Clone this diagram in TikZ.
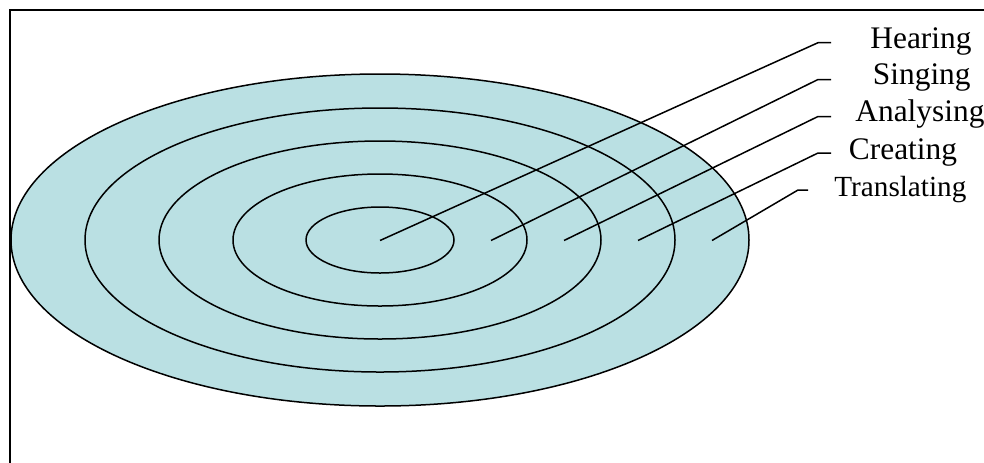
\documentclass[tikz,border=0pt]{standalone}
\usepackage{fontspec}
\setmainfont{Liberation Serif}
\definecolor{ringfill}{RGB}{186,224,227}
\begin{document}
\begin{tikzpicture}[x=0.5pt,y=-0.5pt,
  ring/.style={draw=black, line width=0.75pt},
  leader/.style={draw=black, line width=0.75pt},
  frameline/.style={draw=black, line width=1pt},
  lab/.style={anchor=base west, inner sep=0pt, font=\fontsize{15.7pt}{18pt}\selectfont},
  smalllab/.style={lab, font=\fontsize{14.6pt}{17pt}\selectfont}]
\useasboundingbox (0,0) rectangle (984,462);
\begin{scope}
  \clip (0,0) rectangle (984,462);
  \coordinate (frTR) at (1100,9.7);
  \coordinate (frTL) at (10,9.7);
  \coordinate (frBL) at (10,600);
  \draw[frameline] (frTR) -- (frTL) -- (frBL);
\end{scope}
% rings
\path[ring, fill=ringfill] (380,240) ellipse [x radius=369, y radius=166];
\path[ring] (380,240) ellipse [x radius=295, y radius=132];
\path[ring] (380,240) ellipse [x radius=221, y radius=99];
\path[ring] (380,240) ellipse [x radius=147, y radius=66];
\path[ring] (380,240) ellipse [x radius=74, y radius=33];
% labels
\node[lab] (hear) at (870,48.3) {Hearing};
\node[lab] (sing) at (872.5,84) {Singing};
\node[lab] (anal) at (855,121) {Analysing};
\node[lab] (crea) at (848.5,159) {Creating};
\node[smalllab] (tran) at (834,196.5) {Translating};
% leader points
\coordinate (h0) at (380,240.5); \coordinate (h1) at (818,42.7); \coordinate (h2) at (831,42.7);
\coordinate (s0) at (491,240.5); \coordinate (s1) at (818,79.5); \coordinate (s2) at (831,79.5);
\coordinate (a0) at (564,240.5); \coordinate (a1) at (818,116.5); \coordinate (a2) at (831,116.5);
\coordinate (c0) at (638,240.5); \coordinate (c1) at (818,153); \coordinate (c2) at (831,153);
\coordinate (t0) at (712,240.5); \coordinate (t1) at (798,190); \coordinate (t2) at (808,190);
\draw[leader] (h0) -- (h1) -- (h2);
\draw[leader] (s0) -- (s1) -- (s2);
\draw[leader] (a0) -- (a1) -- (a2);
\draw[leader] (c0) -- (c1) -- (c2);
\draw[leader] (t0) -- (t1) -- (t2);
\end{tikzpicture}
\end{document}
